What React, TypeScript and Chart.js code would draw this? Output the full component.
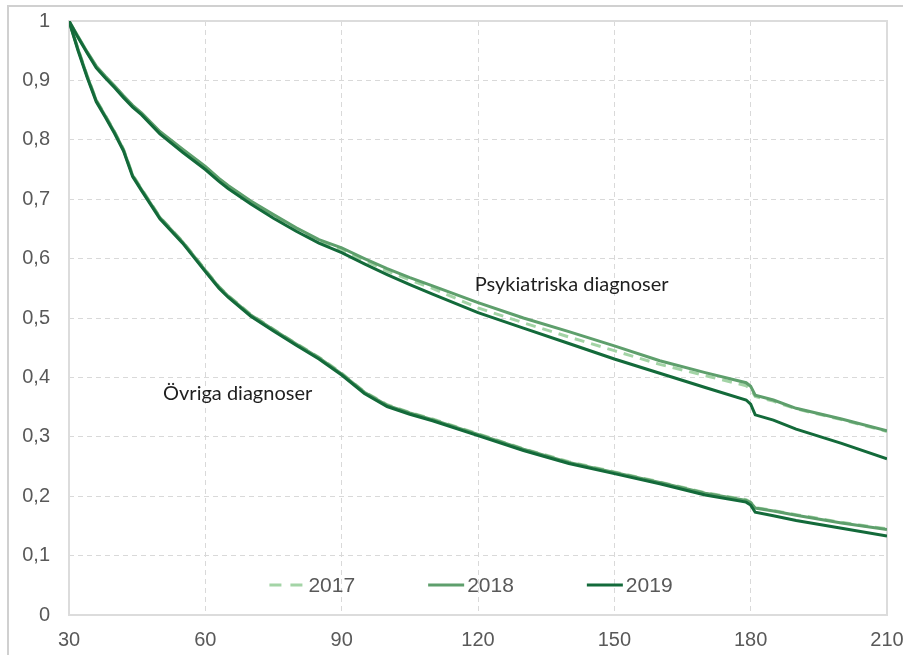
import { useEffect, useRef } from "react";
import { Chart, registerables } from "chart.js";

Chart.register(...registerables);

// Days since start of sick leave (x axis)
const DAYS = [30, 32, 34, 36, 38, 40, 42, 44, 46, 50, 55, 60, 63, 65, 70, 75, 80, 85, 90, 95, 100, 105, 110, 120, 130, 140, 150, 160, 170, 179, 180, 181, 185, 190, 200, 210];

// Psykiatriska diagnoser
const PSYK_2017 = [1.0, 0.973, 0.947, 0.923, 0.906, 0.89, 0.873, 0.857, 0.844, 0.813, 0.783, 0.754, 0.734, 0.722, 0.696, 0.673, 0.651, 0.63, 0.615, 0.597, 0.579, 0.564, 0.55, 0.517, 0.492, 0.468, 0.445, 0.422, 0.403, 0.386, 0.38, 0.368, 0.36, 0.347, 0.329, 0.309];
const PSYK_2018 = [1.0, 0.974, 0.948, 0.924, 0.907, 0.891, 0.874, 0.858, 0.845, 0.814, 0.784, 0.755, 0.735, 0.723, 0.697, 0.674, 0.652, 0.632, 0.618, 0.6, 0.583, 0.568, 0.554, 0.526, 0.5, 0.477, 0.453, 0.428, 0.408, 0.391, 0.385, 0.37, 0.362, 0.348, 0.33, 0.31];
const PSYK_2019 = [1.0, 0.972, 0.946, 0.921, 0.904, 0.888, 0.871, 0.855, 0.842, 0.81, 0.779, 0.75, 0.73, 0.718, 0.692, 0.668, 0.646, 0.626, 0.61, 0.591, 0.573, 0.556, 0.54, 0.509, 0.483, 0.457, 0.431, 0.407, 0.383, 0.362, 0.355, 0.337, 0.328, 0.313, 0.289, 0.263];

// Övriga diagnoser
const OVR_2017 = [1.0, 0.953, 0.908, 0.867, 0.841, 0.814, 0.784, 0.741, 0.717, 0.67, 0.629, 0.581, 0.553, 0.538, 0.506, 0.481, 0.457, 0.434, 0.407, 0.376, 0.354, 0.341, 0.33, 0.305, 0.28, 0.258, 0.241, 0.224, 0.206, 0.194, 0.19, 0.181, 0.176, 0.169, 0.156, 0.145];
const OVR_2018 = [1.0, 0.952, 0.907, 0.866, 0.84, 0.813, 0.783, 0.74, 0.716, 0.669, 0.628, 0.58, 0.552, 0.537, 0.505, 0.48, 0.456, 0.433, 0.406, 0.375, 0.353, 0.34, 0.329, 0.304, 0.279, 0.257, 0.24, 0.223, 0.205, 0.193, 0.189, 0.18, 0.175, 0.168, 0.155, 0.144];
const OVR_2019 = [1.0, 0.95, 0.905, 0.864, 0.838, 0.811, 0.781, 0.738, 0.714, 0.667, 0.626, 0.578, 0.55, 0.535, 0.503, 0.478, 0.454, 0.431, 0.404, 0.373, 0.351, 0.338, 0.327, 0.302, 0.277, 0.255, 0.238, 0.221, 0.202, 0.19, 0.185, 0.173, 0.167, 0.159, 0.146, 0.133];

const YEARS = ["2017", "2018", "2019"];
const X_TICKS = [30, 60, 90, 120, 150, 180, 210];
const Y_MIN = 0;
const Y_MAX = 1;
const Y_STEP = 0.1;

const LABEL_PSYK = "Psykiatriska diagnoser";
const LABEL_OVR = "Övriga diagnoser";
const LABEL_PSYK_POS = { x: 119.3, y: 0.556 };
const LABEL_OVR_POS = { x: 50.7, y: 0.372 };

const COLORS: Record<string, string> = { "2017": "#a3d4a6", "2018": "#5e9f6c", "2019": "#136a3a" };
const DASHES: Record<string, number[]> = { "2017": [10, 7], "2018": [], "2019": [] };

const TICK_FONT = { family: "'Liberation Sans', Arial, sans-serif", size: 20 };
const TEXT_GRAY = "#595959";

function pts(vals: number[]) {
  return DAYS.map((d, i) => ({ x: d, y: vals[i] }));
}

const decorPlugin = {
  id: "decor",
  beforeDraw(chart: any) {
    const ctx = chart.ctx;
    ctx.save();
    ctx.fillStyle = "#d0d0d0";
    ctx.fillRect(7, 5, chart.width, 2);
    ctx.fillRect(7, 5, 2, chart.height);
    ctx.restore();
  },
  beforeDatasetsDraw(chart: any) {
    const { ctx, chartArea: a } = chart;
    ctx.save();
    ctx.setLineDash([]);
    ctx.strokeStyle = "#dcdcdc";
    ctx.lineWidth = 2;
    ctx.strokeRect(a.left, a.top, a.right - a.left, a.bottom - a.top);
    ctx.restore();
  },
  afterDatasetsDraw(chart: any) {
    const { ctx, chartArea: a, scales } = chart;
    ctx.save();
    // annotations
    ctx.fillStyle = "#1f1f1f";
    ctx.font = "20px Lato, 'Open Sans', sans-serif";
    ctx.textAlign = "left";
    ctx.textBaseline = "middle";
    ctx.fillText(LABEL_PSYK, scales.x.getPixelForValue(LABEL_PSYK_POS.x), scales.y.getPixelForValue(LABEL_PSYK_POS.y));
    ctx.fillText(LABEL_OVR, scales.x.getPixelForValue(LABEL_OVR_POS.x), scales.y.getPixelForValue(LABEL_OVR_POS.y));

    // legend inside plot
    ctx.font = `${TICK_FONT.size + 1}px ${TICK_FONT.family}`;
    const sampleW = 36;
    const gapText = 3;
    const gapItem = 73;
    const widths = YEARS.map((y) => sampleW + gapText + ctx.measureText(y).width);
    const total = widths.reduce((s, w) => s + w, 0) + gapItem * (YEARS.length - 1);
    let x = (a.left + a.right) / 2 - total / 2 - 7;
    const yc = a.bottom - 30;
    YEARS.forEach((yr, i) => {
      ctx.beginPath();
      ctx.strokeStyle = COLORS[yr];
      ctx.lineWidth = 3;
      ctx.setLineDash(yr === "2017" ? [12, 9] : []);
      ctx.moveTo(x, yc);
      ctx.lineTo(x + sampleW, yc);
      ctx.stroke();
      ctx.setLineDash([]);
      ctx.fillStyle = TEXT_GRAY;
      ctx.textBaseline = "middle";
      ctx.fillText(yr, x + sampleW + gapText, yc + 1);
      x += widths[i] + gapItem;
    });
    ctx.restore();
  },
};

export default function App() {
  const ref = useRef<HTMLCanvasElement | null>(null);

  useEffect(() => {
    document.body.style.margin = "0";
    document.body.style.overflow = "hidden";
    const canvas = ref.current;
    if (!canvas) return;

    const groups = [
      { name: "Psyk", data: [PSYK_2017, PSYK_2018, PSYK_2019] },
      { name: "Ovr", data: [OVR_2017, OVR_2018, OVR_2019] },
    ];
    const datasets: any[] = [];
    groups.forEach((g) => {
      YEARS.forEach((yr, i) => {
        datasets.push({
          label: `${yr} ${g.name}`,
          data: pts(g.data[i]),
          borderColor: COLORS[yr],
          backgroundColor: COLORS[yr],
          borderDash: DASHES[yr],
          borderWidth: 3,
          pointRadius: 0,
          tension: 0,
          fill: false,
          order: 2 - i,
        });
      });
    });

    const chart = new Chart(canvas, {
      type: "line",
      data: { datasets },
      options: {
        animation: false,
        responsive: false,
        devicePixelRatio: 1,
        layout: { padding: { top: 21, right: 16, bottom: 0, left: 0 } },
        plugins: { legend: { display: false }, tooltip: { enabled: false } },
        scales: {
          x: {
            type: "linear",
            min: X_TICKS[0],
            max: X_TICKS[X_TICKS.length - 1],
            afterBuildTicks: (s: any) => {
              s.ticks = X_TICKS.map((v) => ({ value: v }));
            },
            afterFit: (s: any) => {
              s.height = 40;
              s.paddingLeft = 0;
              s.paddingRight = 0;
            },
            grid: { color: "#d9d9d9", lineWidth: 1, drawTicks: false },
            border: { display: false, dash: [5, 4] },
            ticks: { font: TICK_FONT, color: TEXT_GRAY, padding: 13, maxRotation: 0, autoSkip: false },
          },
          y: {
            type: "linear",
            min: Y_MIN,
            max: Y_MAX,
            afterFit: (s: any) => {
              s.width = 69;
              s.paddingTop = 0;
              s.paddingBottom = 0;
            },
            grid: { color: "#d9d9d9", lineWidth: 1, drawTicks: false },
            border: { display: false, dash: [5, 4] },
            ticks: {
              stepSize: Y_STEP,
              font: TICK_FONT,
              color: TEXT_GRAY,
              padding: 19,
              callback: (v: any) => {
                const n = Number(v);
                if (Math.abs(n) < 1e-9) return "0";
                if (Math.abs(n - 1) < 1e-9) return "1";
                return n.toFixed(1).replace(".", ",");
              },
            },
          },
        },
      },
      plugins: [decorPlugin],
    });
    return () => chart.destroy();
  }, []);

  return <canvas ref={ref} width={903} height={655} style={{ display: "block" }} />;
}
